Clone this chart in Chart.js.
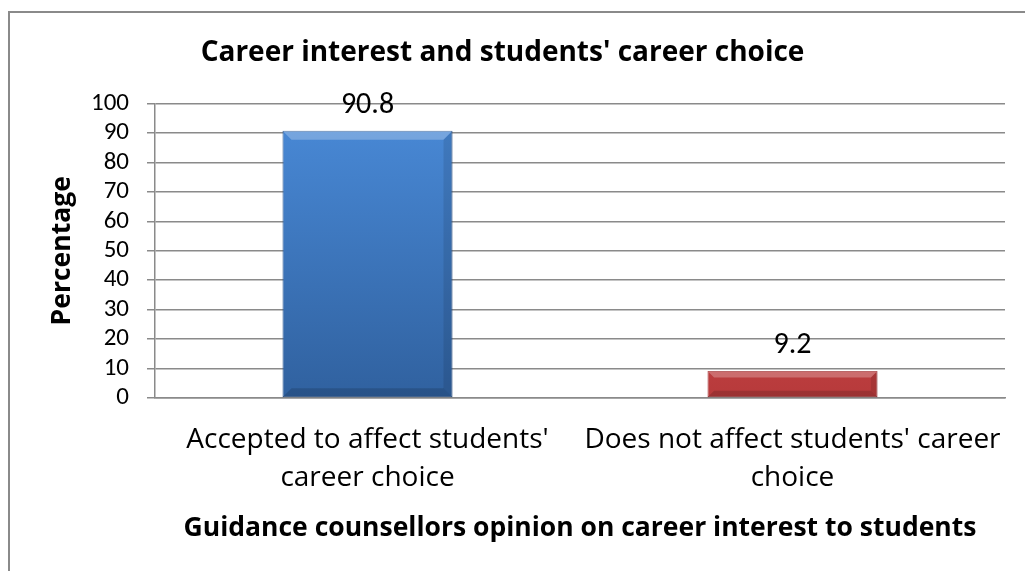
<!DOCTYPE html>
<html>
<head>
<meta charset="utf-8">
<script src="https://cdn.jsdelivr.net/npm/chart.js@4.4.1/dist/chart.umd.min.js"></script>
<style>
  html, body { margin: 0; padding: 0; background: #fff; }
  #wrap { width: 1025px; height: 571px; }
</style>
</head>
<body>
<div id="wrap"><canvas id="chart" width="1025" height="571"></canvas></div>
<script>
const categories = [
    ["Accepted to affect students'", 'career choice'],
    ["Does not affect students' career", 'choice']
];
const percentages = [90.8, 9.2];
const yTicks = [0, 10, 20, 30, 40, 50, 60, 70, 80, 90, 100];

const WORDS = '"Open Sans", sans-serif';
const DIGITS = 'Carlito, "Open Sans", sans-serif';

const TOPS = ['#4a8bd9', '#e25a5c'];
const BOTTOMS = ['#30619f', '#b73a3b'];
const EDGES = ['#2a5690', '#a33334'];

function barFill(ctx) {
    const area = ctx.chart.chartArea;
    if (!area) return TOPS[ctx.dataIndex];
    const g = ctx.chart.ctx.createLinearGradient(0, area.top, 0, area.bottom);
    g.addColorStop(0, TOPS[ctx.dataIndex]);
    g.addColorStop(1, BOTTOMS[ctx.dataIndex]);
    return g;
}

// outer frame of the chart
const framePlugin = {
    id: 'frame',
    beforeDraw(chart) {
        const c = chart.ctx;
        c.save();
        c.strokeStyle = '#8a8a8a';
        c.lineWidth = 2;
        c.strokeRect(9, 12, 1030, 580);
        c.restore();
    }
};

// bevel highlights and value labels above bars
const valuePlugin = {
    id: 'values',
    afterDatasetsDraw(chart) {
        const c = chart.ctx;
        const meta = chart.getDatasetMeta(0);
        c.save();
        meta.data.forEach(function (bar, i) {
            const left = bar.x - bar.width / 2;
            const right = bar.x + bar.width / 2;
            const h = bar.base - bar.y;
            const b = Math.min(9, h / 4);
            c.fillStyle = 'rgba(255,255,255,0.25)';
            c.beginPath();
            c.moveTo(left, bar.y);
            c.lineTo(right, bar.y);
            c.lineTo(right - b, bar.y + b);
            c.lineTo(left + b, bar.y + b);
            c.closePath();
            c.fill();
            c.fillStyle = 'rgba(0,0,0,0.15)';
            c.beginPath();
            c.moveTo(left, bar.base);
            c.lineTo(right, bar.base);
            c.lineTo(right - b, bar.base - b);
            c.lineTo(left + b, bar.base - b);
            c.closePath();
            c.fill();
            c.fillStyle = 'rgba(0,0,0,0.10)';
            c.beginPath();
            c.moveTo(right, bar.y);
            c.lineTo(right, bar.base);
            c.lineTo(right - b, bar.base - b);
            c.lineTo(right - b, bar.y + b);
            c.closePath();
            c.fill();

            c.fillStyle = '#000';
            c.font = '30px ' + DIGITS;
            c.textAlign = 'center';
            c.textBaseline = 'alphabetic';
            c.fillText(String(percentages[i]), bar.x, bar.y - 18);
        });
        c.restore();
    }
};

const ctx = document.getElementById('chart').getContext('2d');
new Chart(ctx, {
    type: 'bar',
    data: {
        labels: categories,
        datasets: [{
            data: percentages,
            backgroundColor: barFill,
            borderColor: EDGES,
            borderWidth: 1,
            borderSkipped: false,
            barPercentage: 0.4,
            categoryPercentage: 1
        }]
    },
    options: {
        responsive: false,
        animation: false,
        events: [],
        layout: { padding: { left: 0, right: 20, top: 0, bottom: 0 } },
        plugins: {
            legend: { display: false },
            tooltip: { enabled: false },
            title: {
                display: true,
                text: "Career interest and students' career choice",
                color: '#000',
                font: { family: WORDS, size: 28, weight: 'bold', lineHeight: 1.2 },
                padding: { top: 36, bottom: 34 }
            }
        },
        scales: {
            x: {
                grid: { display: false, drawTicks: false },
                border: { display: true, color: '#8a8a8a', width: 1.5 },
                ticks: {
                    color: '#000',
                    font: { family: WORDS, size: 28, lineHeight: 1.36 },
                    padding: 23,
                    maxRotation: 0,
                    autoSkip: false
                },
                title: {
                    display: true,
                    text: 'Guidance counsellors opinion on career interest to students',
                    color: '#000',
                    font: { family: WORDS, size: 26.5, weight: 'bold', lineHeight: 1.2 },
                    padding: { top: 4, bottom: 27 }
                },
                afterFit(scale) {
                    scale.height = 173;
                    scale.paddingLeft = 0;
                    scale.paddingRight = 0;
                }
            },
            y: {
                min: 0,
                max: 100,
                afterBuildTicks(scale) { scale.ticks = yTicks.map(v => ({ value: v })); },
                grid: { color: '#8a8a8a', lineWidth: 1.5, tickLength: 8, drawTicks: true },
                border: { display: true, color: '#8a8a8a', width: 1.5 },
                ticks: {
                    color: '#000',
                    font: { family: DIGITS, size: 25, lineHeight: 1 },
                    padding: 18,
                    autoSkip: false
                },
                title: {
                    display: true,
                    text: 'Percentage',
                    color: '#000',
                    font: { family: WORDS, size: 26.5, weight: 'bold', lineHeight: 1.2 },
                    padding: { top: 47, bottom: 0 }
                },
                afterFit(scale) { scale.width = 155; }
            }
        }
    },
    plugins: [framePlugin, valuePlugin]
});
</script>
</body>
</html>
